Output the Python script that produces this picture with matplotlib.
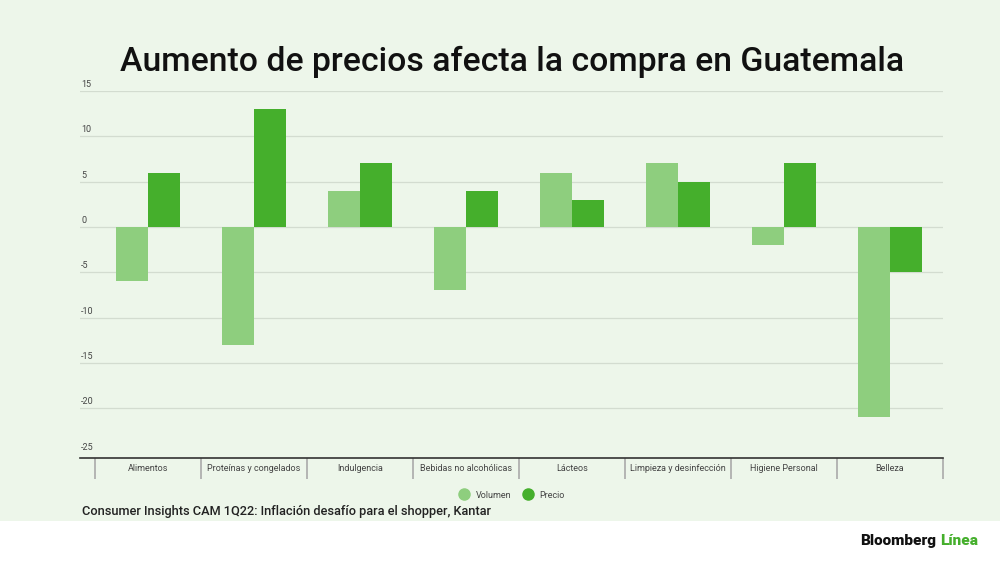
import numpy as np
import matplotlib.pyplot as plt
from matplotlib.patches import Rectangle
from matplotlib.lines import Line2D

plt.rcParams['font.family'] = ['Roboto', 'DejaVu Sans']

categories = ["Alimentos", "Proteínas y congelados", "Indulgencia", "Bebidas no alcohólicas",
              "Lácteos", "Limpieza y desinfección", "Higiene Personal", "Belleza"]
volumen = [-6, -13, 4, -7, 6, 7, -2, -21]
precio = [6, 13, 7, 4, 3, 5, 7, -5]
yticks = [15, 10, 5, 0, -5, -10, -15, -20, -25]

LIGHT = "#8ECE7E"
DARK = "#45AF2C"
BG = "#EDF6EA"

W, H = 1000, 562
fig = plt.figure(figsize=(10, 5.62), dpi=100, facecolor="white")
fig.patches.append(Rectangle((0, 1 - 521 / H), 1, 521 / H, transform=fig.transFigure,
                             facecolor=BG, edgecolor="none", zorder=-10))

ax = fig.add_axes([80 / W, 1 - 458 / H, (943 - 80) / W, (458 - 91) / H])
ax.set_facecolor("none")

x = np.arange(len(categories))
bw = 0.3
ax.bar(x - bw / 2, volumen, bw, color=LIGHT, zorder=3)
ax.bar(x + bw / 2, precio, bw, color=DARK, zorder=3)

ax.set_xlim(-0.5 - 15 / 106, len(categories) - 0.5)
ax.set_ylim(-25.5, 15)

# y labels sit just above their gridlines, inside the plot
for v in yticks:
    if v != -25:
        ax.axhline(v, color="#D3DCD0", lw=0.9, zorder=1)
    ax.text(1 / 863, v + 0.2, str(v), transform=ax.get_yaxis_transform(),
            fontsize=6.5, color="#444444", va="bottom", ha="left")

ax.set_yticks([])
for s in ["top", "right", "left"]:
    ax.spines[s].set_visible(False)
ax.spines["bottom"].set_color("#333333")
ax.spines["bottom"].set_linewidth(1.2)

ax.set_xticks(x)
ax.set_xticklabels(categories, fontsize=6.5, color="#444444")
ax.tick_params(axis="x", which="major", length=0, pad=4)
ax.set_xticks(np.arange(-0.5, len(categories)), minor=True)
ax.tick_params(axis="x", which="minor", length=15, width=1.2, color="#AAAAAA")

fig.text(0.5125, 1 - 62 / H, "Aumento de precios afecta la compra en Guatemala",
         fontsize=24.3, fontweight="medium", ha="center", va="center", color="#111111")

handles = [Line2D([], [], marker="o", ls="none", markersize=8, color=LIGHT, label="Volumen"),
           Line2D([], [], marker="o", ls="none", markersize=8, color=DARK, label="Precio")]
fig.legend(handles=handles, loc="center", bbox_to_anchor=(0.51, 1 - 495 / H), ncol=2,
           frameon=False, fontsize=6.5, handletextpad=0.3, columnspacing=0.8,
           labelcolor="#444444")

fig.text(82 / W, 1 - 512 / H, "Consumer Insights CAM 1Q22: Inflación desafío para el shopper, Kantar",
         fontsize=9.2, fontweight="medium", ha="left", va="center", color="#222222")

fig.text(978 / W, 1 - 541 / H, "Línea", fontsize=11, fontweight="heavy", color=DARK,
         ha="right", va="center")
fig.text(936 / W, 1 - 541 / H, "Bloomberg", fontsize=11, fontweight="heavy", color="#111111",
         ha="right", va="center")

fig.savefig("out.png", dpi=100, facecolor="white")
